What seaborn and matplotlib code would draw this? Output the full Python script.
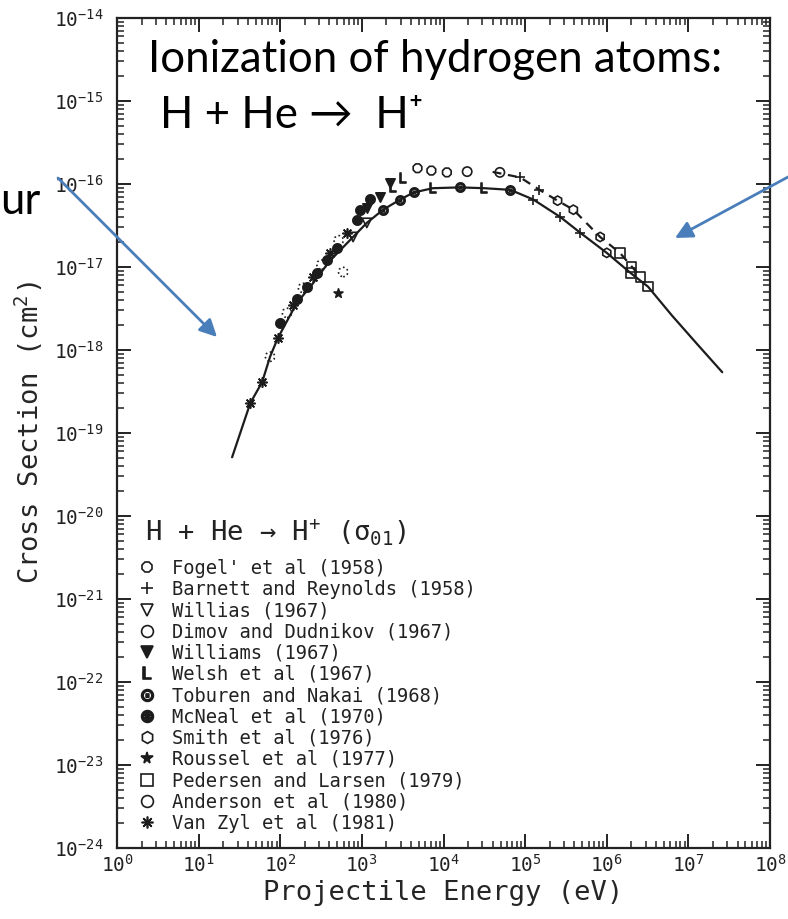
import matplotlib
matplotlib.use("Agg")
import matplotlib.pyplot as plt
from matplotlib.lines import Line2D
from matplotlib.patches import FancyArrowPatch
from matplotlib.ticker import FixedLocator, LogLocator, NullFormatter
import numpy as np
import pandas as pd
import seaborn as sns

# ---------------------------------------------------------------- data
# recommended cross-section curve (eV, cm^2)
curve_energy = [25.7, 43, 60, 75, 93, 120, 160, 250, 400, 780, 1150, 1820, 2950,
                4300, 7400, 15800, 31600, 66000, 1.26e5, 2.7e5, 4.7e5, 1.0e6,
                1.95e6, 3.2e6, 6.3e6, 1.26e7, 2.6e7]
curve_sigma = [5.1e-20, 2.3e-19, 4.1e-19, 8.3e-19, 1.38e-18, 2.2e-18, 3.7e-18,
               6.3e-18, 1.17e-17, 2.3e-17, 3.4e-17, 4.9e-17, 6.5e-17, 7.9e-17,
               8.9e-17, 9.1e-17, 8.9e-17, 8.5e-17, 6.5e-17, 4.0e-17, 2.6e-17,
               1.48e-17, 8.5e-18, 5.8e-18, 2.6e-18, 1.2e-18, 5.4e-19]

# upper branch drawn dashed at high energy
dash_energy = [40000, 87000, 1.5e5, 2.5e5, 3.9e5, 8.3e5, 1.45e6, 2.6e6]
dash_sigma = [1.40e-16, 1.2e-16, 8.5e-17, 6.3e-17, 4.9e-17, 2.3e-17, 1.48e-17, 7.6e-18]

# measured points (eV, cm^2) and the source index of each
meas_energy = [43, 60, 75, 93, 100, 121, 145, 161, 190, 215, 250, 283, 320, 375,
               410, 500, 520, 665, 870, 950, 1150, 1260, 1660, 2240, 2400, 3200,
               4800, 7100, 11000, 19500, 49000, 87000, 1.5e5, 2.5e5, 3.9e5,
               8.3e5, 1.45e6, 2.0e6, 2.6e6,
               780, 1150, 1820, 2950, 4300, 7400, 15800, 31600, 66000, 1.26e5,
               2.7e5, 4.7e5, 1.0e6, 1.95e6, 3.2e6,
               590, 510]
meas_sigma = [2.3e-19, 4.1e-19, 8.3e-19, 1.38e-18, 2.1e-18, 2.8e-18, 3.5e-18,
              4.1e-18, 5.6e-18, 5.8e-18, 7.6e-18, 8.5e-18, 1.07e-17, 1.2e-17,
              1.48e-17, 1.7e-17, 2.1e-17, 2.6e-17, 3.7e-17, 4.9e-17, 5.1e-17,
              6.6e-17, 6.9e-17, 1.02e-16, 9.1e-17, 1.17e-16,
              1.55e-16, 1.45e-16, 1.38e-16, 1.41e-16, 1.38e-16, 1.2e-16,
              8.5e-17, 6.3e-17, 4.9e-17, 2.3e-17, 1.48e-17, 1.0e-17, 7.6e-18,
              2.3e-17, 3.4e-17, 4.9e-17, 6.5e-17, 7.9e-17, 8.9e-17, 9.1e-17,
              8.9e-17, 8.5e-17, 6.5e-17, 4.0e-17, 2.6e-17, 1.48e-17, 8.5e-18,
              5.8e-18,
              8.7e-18, 4.9e-18]
meas_source = [12, 12, 11, 12, 7, 11, 12, 7, 11, 7, 12, 7, 11, 7,
               12, 7, 11, 12, 7, 7, 4, 7, 4, 4, 5, 5,
               0, 0, 0, 3, 3, 1, 1, 8, 8,
               8, 10, 10, 10,
               2, 2, 6, 6, 6, 5, 6, 5, 6, 1,
               1, 1, 8, 10, 10,
               11, 9]

sources = ["Fogel' et al (1958)", "Barnett and Reynolds (1958)", "Willias (1967)",
           "Dimov and Dudnikov (1967)", "Williams (1967)", "Welsh et al (1967)",
           "Toburen and Nakai (1968)", "McNeal et al (1970)", "Smith et al (1976)",
           "Roussel et al (1977)", "Pedersen and Larsen (1979)",
           "Anderson et al (1980)", "Van Zyl et al (1981)"]

# symbol, filled, edge style for each source
marker_style = {
    0: ("8", False, "-"),
    1: ("+", True, "-"),
    2: ("v", False, "-"),
    3: ("o", False, "-"),
    4: ("v", True, "-"),
    5: ("$L$", True, "-"),
    6: ("$\\odot$", True, "-"),
    7: ("$\\circledast$", True, "-"),
    8: ("h", False, "-"),
    9: ("*", True, "-"),
    10: ("s", False, "-"),
    11: ("o", False, ":"),
    12: ((8, 2, 0), True, "-"),
}

ink = "#1c1c1c"

# ---------------------------------------------------------------- style
sns.set_theme(style="ticks")
plt.rcParams.update({
    "font.family": ["DejaVu Sans Mono"],
    "mathtext.fontset": "custom",
    "mathtext.rm": "DejaVu Sans Mono",
    "mathtext.it": "DejaVu Sans Mono",
    "mathtext.bf": "DejaVu Sans Mono",
    "axes.edgecolor": "#222222",
    "axes.linewidth": 1.6,
    "text.color": "#222222",
})

W, H = 788, 919
fig = plt.figure(figsize=(W / 100, H / 100), dpi=100)
ax = fig.add_axes([117 / W, 1 - 848 / H, 653 / W, 830 / H])

df = pd.DataFrame({"energy": meas_energy, "sigma": meas_sigma,
                   "src": meas_source})

sns.lineplot(x=curve_energy, y=curve_sigma, ax=ax, color=ink, lw=1.6,
             sort=False, estimator=None)
sns.lineplot(x=dash_energy, y=dash_sigma, ax=ax, color=ink, lw=1.6,
             sort=False, estimator=None, linestyle=(0, (4, 3)))

for k, sub in df.groupby("src"):
    m, filled, ls = marker_style[k]
    kw = dict(marker=m, s=45, linewidth=1.2, linestyle=ls)
    if filled:
        kw.update(color=ink, edgecolor=ink)
    else:
        kw.update(facecolor="none", edgecolor=ink)
    sns.scatterplot(data=sub, x="energy", y="sigma", ax=ax, legend=False, **kw)

ax.set_xscale("log")
ax.set_yscale("log")
ax.set_xlim(1, 1e8)
ax.set_ylim(1e-24, 1e-14)

ax.xaxis.set_major_locator(FixedLocator(10.0 ** np.arange(0, 9)))
ax.yaxis.set_major_locator(FixedLocator(10.0 ** np.arange(-24, -13)))
for axis in (ax.xaxis, ax.yaxis):
    axis.set_minor_locator(LogLocator(base=10, subs=np.arange(2, 10), numticks=30))
    axis.set_minor_formatter(NullFormatter())

ax.tick_params(which="both", direction="in", top=True, right=True,
               colors="#222222", labelsize=14)
ax.tick_params(which="major", length=10, width=1.4)
ax.tick_params(which="minor", length=5, width=1.1)
ax.tick_params(axis="y", pad=10)
ax.tick_params(axis="x", pad=4)

ax.set_xlabel("Projectile Energy (eV)", fontsize=19.5, labelpad=3)
ax.set_ylabel("Cross Section (cm$^2$)", fontsize=19.5, labelpad=6)

# heading and legend of the data sources
ax.text(0.043, 0.3795, "H + He \u2192 H$^{+}$ ($\\sigma_{01}$)", transform=ax.transAxes,
        fontsize=19.5, va="center", ha="left", family="DejaVu Sans Mono")
handles = []
for k in range(len(sources)):
    m, filled, ls = marker_style[k]
    handles.append(Line2D([], [], linestyle="none", marker=m, markersize=8.5,
                          markeredgewidth=1.2, color=ink,
                          markerfacecolor=ink if filled else "none"))
leg = ax.legend(handles, sources, loc="upper left",
                bbox_to_anchor=(0.0316, 0.3487), frameon=False,
                prop={"family": "DejaVu Sans Mono", "size": 13.5},
                handlelength=1.0, handletextpad=0.85,
                labelspacing=0.12, borderpad=0, borderaxespad=0)

# ---------------------------------------------------------------- annotations
title_font = ["Lato", "DejaVu Sans"]
fig.text(148 / W, 1 - 72 / H, "Ionization of hydrogen atoms:", family=title_font,
         fontsize=31.5, va="baseline", ha="left", color="black")
fig.text(160 / W, 1 - 128 / H, "H + He \u2192  H\u207a", family=title_font,
         fontsize=31.5, va="baseline", ha="left", color="black")
fig.text(0 / W, 1 - 214 / H, "ur", family=title_font, fontsize=31.5,
         va="baseline", ha="left", color="black")

arrow_kw = dict(arrowstyle="-|>", color="#4a7ebb", lw=2.0, mutation_scale=26,
                shrinkA=0, shrinkB=0)
fig.add_artist(FancyArrowPatch((58 / W, 1 - 178 / H), (217 / W, 1 - 337 / H),
                               transform=fig.transFigure, **arrow_kw))
fig.add_artist(FancyArrowPatch((788 / W, 1 - 177 / H), (675 / W, 1 - 238 / H),
                               transform=fig.transFigure, **arrow_kw))

fig.savefig("out.png", dpi=100)
